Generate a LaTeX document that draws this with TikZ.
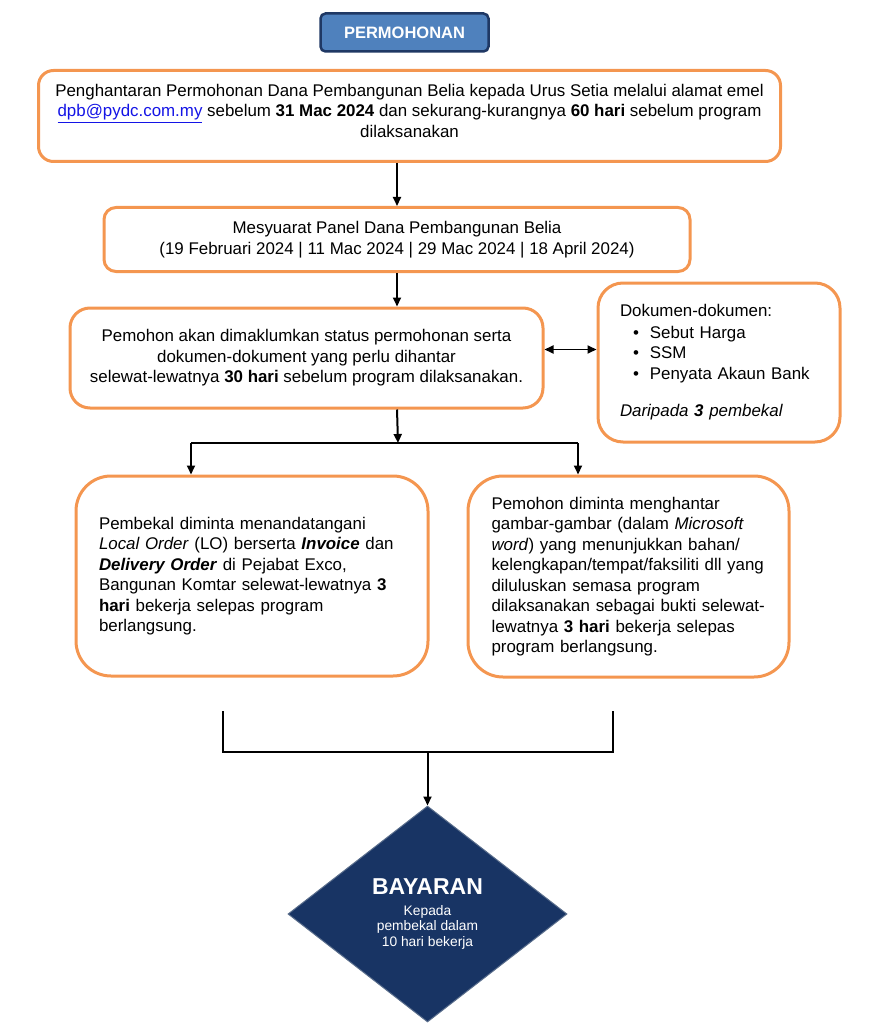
\documentclass[tikz,border=0pt]{standalone}
\usepackage{fontspec}
\setmainfont{Liberation Sans}
\usetikzlibrary{shapes.geometric,arrows.meta,calc}
\definecolor{orng}{RGB}{244,150,80}
\definecolor{hdrblue}{RGB}{79,129,189}
\definecolor{hdredge}{RGB}{31,56,100}
\definecolor{navy}{RGB}{24,52,100}
\definecolor{navyedge}{RGB}{90,110,140}
\definecolor{linkblue}{RGB}{20,20,230}
\begin{document}
\begin{tikzpicture}[x=1pt,y=-1pt,
  txt/.style={font=\fontsize{16.9}{20.5}\selectfont},
  obox/.style={draw=orng,line width=3pt,fill=white,inner sep=0pt,txt},
  arr/.style={draw=black,line width=2pt,-{Triangle[length=9pt,width=8pt]}},
  dblarr/.style={draw=black,line width=1.8pt,{Triangle[length=9pt,width=8pt]}-{Triangle[length=9pt,width=8pt]}},
  conn/.style={draw=black,line width=2.4pt},
  brk/.style={draw=black,line width=2pt}]
\useasboundingbox (0,0) rectangle (868,1024);

\node[draw=hdredge,line width=2.5pt,fill=hdrblue,rounded corners=5pt,
  minimum width=168pt,minimum height=38pt,inner sep=0pt,
  text=white,font=\fontsize{16.5}{19}\selectfont\bfseries] (hdr) at (404.5,32.5) {PERMOHONAN};

\node[obox,rounded corners=15pt,minimum width=742pt,minimum height=91pt,align=center] (b1) at (409.5,116)
{Penghantaran Permohonan Dana Pembangunan Belia kepada Urus Setia melalui alamat emel\\
\textcolor{linkblue}{\underline{dpb@pydc.com.my}} sebelum \textbf{31 Mac 2024} dan sekurang-kurangnya \textbf{60 hari} sebelum program\\
dilaksanakan\\[-10pt]};

\node[obox,rounded corners=12pt,minimum width=586pt,minimum height=64pt,align=center] (b2) at (397,239.5)
{Mesyuarat Panel Dana Pembangunan Belia\\
(19 Februari 2024 | 11 Mac 2024 | 29 Mac 2024 | 18 April 2024)};

\node[obox,rounded corners=20pt,minimum width=473pt,minimum height=100pt,align=center] (b3) at (306.5,358)
{Pemohon akan dimaklumkan status permohonan serta\\
dokumen-dokument yang perlu dihantar\\
selewat-lewatnya \textbf{30 hari} sebelum program dilaksanakan.};

\node[obox,rounded corners=25pt,minimum width=242pt,minimum height=159pt,align=left,
  text width=198pt,inner xsep=22pt] (b4) at (719,362.5)
{Dokumen-dokumen:\\[1pt]
\hspace*{13pt}\textbullet\hspace{11pt}Sebut Harga\\
\hspace*{13pt}\textbullet\hspace{11pt}SSM\\
\hspace*{13pt}\textbullet\hspace{11pt}Penyata Akaun Bank\\[17pt]
\textit{Daripada \textbf{3} pembekal}\\[20pt]};

\node[obox,rounded corners=35pt,minimum width=352pt,minimum height=200pt,align=left,
  text width=306pt,inner xsep=23pt] (b5) at (252,576)
{Pembekal diminta menandatangani\\
\textit{Local Order} (LO) berserta \textbf{\textit{Invoice}} dan\\
\textbf{\textit{Delivery Order}} di Pejabat Exco,\\
Bangunan Komtar selewat-lewatnya \textbf{3}\\
\textbf{hari} bekerja selepas program\\
berlangsung.};

\node[obox,rounded corners=35pt,minimum width=321pt,minimum height=201pt,align=left,
  text width=274pt,inner xsep=23.5pt] (b6) at (628.5,576.5)
{Pemohon diminta menghantar\\
gambar-gambar (dalam \textit{Microsoft}\\
\textit{word}) yang menunjukkan bahan/\\
kelengkapan/tempat/faksiliti dll yang\\
diluluskan semasa program\\
dilaksanakan sebagai bukti selewat-\\
lewatnya \textbf{3 hari} bekerja selepas\\
program berlangsung.\\[4pt]};

\node[diamond,aspect=1.29,draw=navyedge,line width=1pt,fill=navy,inner sep=0pt,
  minimum width=279pt,minimum height=216pt,text=white,align=center,
  font=\fontsize{13.8}{15.8}\selectfont] (pay) at (427.5,914)
{{\fontsize{23}{26}\selectfont\bfseries BAYARAN}\\[5pt]Kepada\\pembekal dalam\\10 hari bekerja};

% connectors
\draw[arr] (b1.south -| b2.north) -- (b2.north);
\draw[arr] (b2.south) -- (b2.south |- b3.north);
\coordinate (j) at (398,443);
\coordinate (jl) at (191,443);
\coordinate (jr) at (578,443);
\draw[arr] (b2.south |- b3.south) -- (j);
\draw[conn] (jl) -- (jr);
\draw[arr] (jl) -- (jl |- b5.north);
\draw[arr] (jr) -- (jr |- b6.north);
\coordinate (d) at (570,349.5);
\draw[dblarr] (b3.east |- d) -- (b4.west |- d);

\coordinate (ka) at (223,711);
\coordinate (kb) at (613,711);
\coordinate (kc) at (223,752);
\coordinate (kd) at (613,752);
\coordinate (km) at (427.5,752);
\draw[brk] (ka) -- (kc) -- (kd) -- (kb);
\draw[arr] (km) -- (pay.north);
\end{tikzpicture}
\end{document}
